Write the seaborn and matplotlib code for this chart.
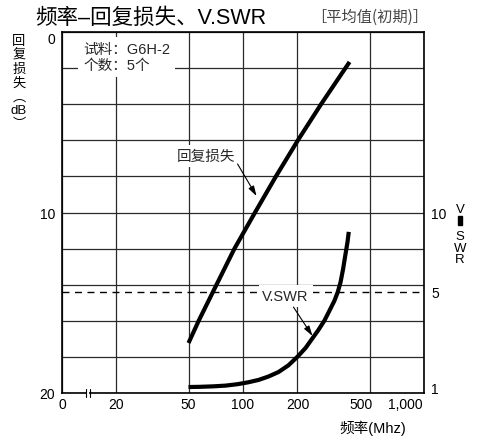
import numpy as np
import pandas as pd
import matplotlib
matplotlib.use("Agg")
import matplotlib.pyplot as plt
import matplotlib.transforms as mtransforms
from matplotlib.patches import Rectangle
from matplotlib.ticker import NullLocator, FixedLocator
import seaborn as sns

# Return loss (dB) versus frequency (MHz)
rl_freq = [50, 56.9, 71.4, 89.7, 116.5, 152, 201, 270, 368, 388]
rl_db = [17.23, 16.0, 14.0, 12.0, 10.0, 8.0, 6.0, 4.0, 2.0, 1.66]

# V.SWR versus frequency (MHz)
vswr_freq = [50, 58.2, 68.7, 80.1, 93.3, 107, 122, 138, 157, 178, 201, 222,
             242, 261, 282, 304, 320, 334, 346, 357, 368, 378, 384]
vswr_val = [1.00, 1.01, 1.03, 1.06, 1.12, 1.20, 1.30, 1.44, 1.63, 1.91, 2.29,
            2.65, 3.05, 3.40, 3.80, 4.29, 4.63, 5.00, 5.62, 6.42, 7.35, 8.15,
            8.78]

# Axis ticks and labels
x_ticks = [10, 20, 50, 100, 200, 500, 1000]
x_tick_labels = ["0", "20", "50", "100", "200", "500", "1,000"]
db_ticks = list(range(0, 21, 2))
db_labelled = {0: "0", 10: "10", 20: "20"}
vswr_ticks = [1, 5, 10]
vswr_tick_labels = ["1", "5", "10"]
vswr_ref = 5  # dashed reference level

sns.set_style("white")
plt.rcParams["font.family"] = ["Liberation Sans", "Noto Sans CJK SC", "DejaVu Sans"]
plt.rcParams["axes.unicode_minus"] = False

W, H = 481, 439
fig = plt.figure(figsize=(W / 100, H / 100), dpi=100)
fig.patch.set_facecolor("white")

def px_box(x0, y0, x1, y1):
    return [x0 / W, 1 - y1 / H, (x1 - x0) / W, (y1 - y0) / H]

ax = fig.add_axes(px_box(62, 33, 424, 394))
ax.set_xscale("log")

rl_df = pd.DataFrame({"freq": rl_freq, "db": rl_db})
sns.lineplot(data=rl_df, x="freq", y="db", ax=ax, color="black", lw=3.0,
             solid_capstyle="butt", solid_joinstyle="round", zorder=4)

ax.set_xlim(10, 1000)
ax.set_ylim(20, 0)
ax.xaxis.set_major_locator(FixedLocator(x_ticks))
ax.xaxis.set_minor_locator(NullLocator())
ax.set_xticklabels(x_tick_labels)
ax.set_yticks(db_ticks)
ax.set_yticklabels([db_labelled.get(t, "") for t in db_ticks])
ax.grid(True, color="#2a2a2a", lw=0.9)
ax.set_axisbelow(True)
ax.tick_params(length=0, labelsize=10, colors="black")
ax.tick_params(axis="x", pad=3)
ax.tick_params(axis="y", pad=5)
ax.set_xlabel("")
ax.set_ylabel("")
for sp in ax.spines.values():
    sp.set_color("black")
    sp.set_linewidth(1.2)
    sp.set_visible(True)

# top label sits under the frame line
for lab in ax.get_yticklabels():
    if lab.get_text() == "0":
        lab.set_va("top")
# keep the last frequency labels inside the frame
xl = ax.get_xticklabels()
xl[-1].set_ha("right")
xl[-1].set_transform(xl[-1].get_transform() + mtransforms.ScaledTranslation(-1 / 72, 0, fig.dpi_scale_trans))
xl[-2].set_transform(xl[-2].get_transform() + mtransforms.ScaledTranslation(-6 / 72, 0, fig.dpi_scale_trans))

# V.SWR scale on the right: uneven spacing between 1, 5 and 10
knots_v = np.array([0.0, 1.0, 5.0, 10.0, 40.0])
knots_p = np.array([-0.99, 0.33, 5.6, 10.0, 36.4])

def fwd(v):
    return np.interp(v, knots_v, knots_p)

def inv(p):
    return np.interp(p, knots_p, knots_v)

ax2 = ax.twinx()
ax2.set_yscale("function", functions=(fwd, inv))
vs_df = pd.DataFrame({"freq": vswr_freq, "vswr": vswr_val})
sns.lineplot(data=vs_df, x="freq", y="vswr", ax=ax2, color="black", lw=3.0,
             solid_capstyle="butt", solid_joinstyle="round", zorder=4)
ax2.axhline(vswr_ref, color="black", lw=1.0, ls=(0, (5, 4)), zorder=2)
ax2.set_ylim(float(inv(0.0)), float(inv(20.0)))
ax2.set_xlim(10, 1000)
ax2.yaxis.set_major_locator(FixedLocator(vswr_ticks))
ax2.yaxis.set_minor_locator(NullLocator())
ax2.set_yticklabels(vswr_tick_labels)
ax2.tick_params(length=0, labelsize=10, pad=5, colors="black")
ax2.set_xlabel("")
ax2.set_ylabel("")
ax2.grid(False)
for sp in ax2.spines.values():
    sp.set_visible(False)

# break mark on the frequency axis
blend = mtransforms.blended_transform_factory(ax.transData, ax.transAxes)
ax2.plot([13.75, 14.15], [0, 0], transform=blend, color="white", lw=3,
         clip_on=False, zorder=6, solid_capstyle="butt")
for xb in (13.6, 14.3):
    ax2.plot([xb, xb], [-0.011, 0.011], transform=blend, color="black",
             lw=0.8, clip_on=False, zorder=7)

# sample information
ax.text((83 - 62) / 362, (394 - 58) / 361, "试料：G6H-2\n个数：5个",
        transform=ax.transAxes, ha="left", va="center", fontsize=10.5,
        linespacing=1.15, zorder=5,
        bbox=dict(boxstyle="square,pad=0.35", fc="white", ec="none"))

# curve callouts
ax2.text(62.2, 6.87, "回复损失", transform=ax.transData, ha="center",
         va="center", fontsize=10.5, zorder=8,
         bbox=dict(boxstyle="square,pad=0.3", fc="white", ec="none"))
ax2.annotate("", xy=(118.8, 9.09), xytext=(93.3, 7.31),
             xycoords=ax.transData, textcoords=ax.transData,
             arrowprops=dict(arrowstyle="-|>,head_length=0.6,head_width=0.18",
                             color="black", lw=0.8, shrinkA=0, shrinkB=0,
                             mutation_scale=10), zorder=8)
ax2.text(172, 14.63, "V.SWR", transform=ax.transData, ha="center",
         va="center", fontsize=10.5, zorder=8,
         bbox=dict(boxstyle="square,pad=0.25", fc="white", ec="none"))
ax2.annotate("", xy=(242, 16.84), xytext=(190, 15.24),
             xycoords=ax.transData, textcoords=ax.transData,
             arrowprops=dict(arrowstyle="-|>,head_length=0.6,head_width=0.18",
                             color="black", lw=0.8, shrinkA=0, shrinkB=0,
                             mutation_scale=10), zorder=8)

# titles and axis captions
fig.text(35 / W, 1 - 18 / H, "频率–回复损失、V.SWR", ha="left", va="center",
         fontsize=15.5, color="black")
fig.text(311 / W, 1 - 17 / H, "［平均值(初期)］", ha="left", va="center",
         fontsize=11, color="#444444",
         family=["Noto Sans CJK SC", "DejaVu Sans"])
fig.text(373 / W, 1 - 428 / H, "频率(Mhz)", ha="center", va="center",
         fontsize=10.5, color="black")

left_chars = ["回", "复", "损", "失", "︵", "dB", "︶"]
for i, ch in enumerate(left_chars):
    fig.text(19 / W, 1 - (42 + i * 13.8) / H, ch, ha="center", va="center",
             fontsize=9.5, color="black")

# stacked V-SWR caption on the right
fig.text(460 / W, 1 - 210 / H, "V", ha="center", va="center", fontsize=9.5,
         color="black")
fig.patches.append(Rectangle((458 / W, 1 - 226 / H), 4 / W, 9 / H,
                             transform=fig.transFigure, color="black"))
fig.text(460 / W, 1 - 248.5 / H, "S\nW\nR", ha="center", va="center",
         fontsize=9.5, linespacing=0.95, multialignment="center",
         color="black")

fig.savefig("out.png", dpi=100, facecolor="white")
